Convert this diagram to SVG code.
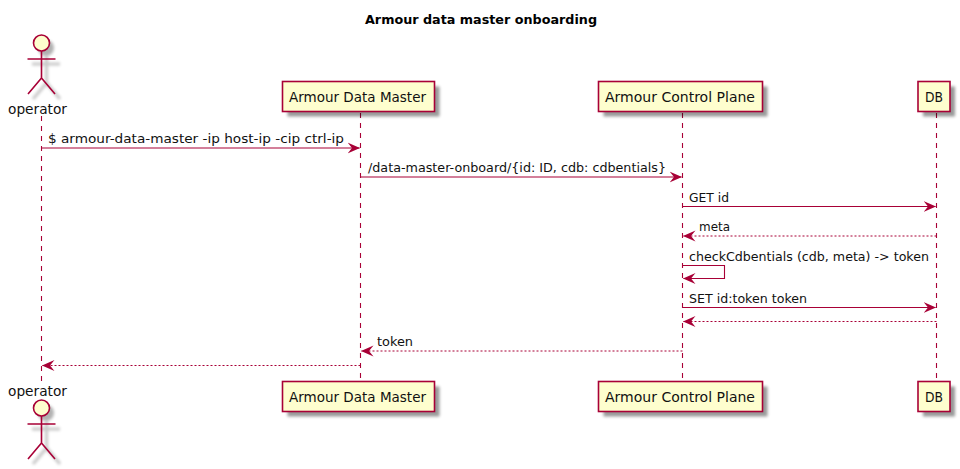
<svg xmlns="http://www.w3.org/2000/svg" width="960" height="469" viewBox="0 0 960 469">
<style>
text{font-family:"DejaVu Sans","Liberation Sans",sans-serif;font-size:13px;fill:#111}
.t{font-weight:bold;font-size:13px;fill:#000}
.a{font-size:14.500px}
.box{fill:#FEFECE;stroke:#A80036;stroke-width:1.600}
.sh{fill:#000;opacity:.4;filter:url(#b)}
.ls{stroke:#A80036;stroke-width:1.100;stroke-dasharray:5 5;fill:none}
.m{stroke:#A80036;stroke-width:1.100;fill:none}
.d{stroke-dasharray:2 2;stroke-width:1}
.ah{fill:#A80036;stroke:none}
.ac{stroke:#A80036;stroke-width:1.600;fill:none}
.sl{stroke:#000;stroke-width:3;fill:none;opacity:.22;filter:url(#b)}
</style>
<defs>
<filter id="b" x="-30%" y="-30%" width="160%" height="160%"><feGaussianBlur stdDeviation="1.500"/></filter>
<marker id="ar" viewBox="0 0 13 12" refX="12" refY="6" markerWidth="13" markerHeight="12" markerUnits="userSpaceOnUse" orient="auto-start-reverse"><path class="ah" d="M0 0.500 L12.500 6 L0 11.500 L4.500 6 Z"/></marker>
<g id="actor">
<circle cx="46" cy="48" r="8" fill="#000" opacity=".3" filter="url(#b)"/><path class="sl" d="M46.500 56V83M32 64H60M46.500 83L33 99M46.500 83L60 99"/>
<circle cx="41.500" cy="43" r="8" fill="#FEFECE" stroke="#A80036" stroke-width="1.600"/>
<path class="ac" d="M41.500 51V78M27.500 59H55.500M41.500 78L28 94M41.500 78L55 94"/>
</g>
</defs>
<text class="t" x="481" y="24" text-anchor="middle" textLength="232" lengthAdjust="spacingAndGlyphs">Armour data master onboarding</text>
<g id="connectors">
<path class="ls" d="M41.500 116V382M360.500 113V382M682.500 113V382M936.500 113V382"/>
<path class="m" d="M41.500 148H359.500" marker-end="url(#ar)"/>
<text x="48" y="143" textLength="296" lengthAdjust="spacingAndGlyphs">$ armour-data-master -ip host-ip -cip ctrl-ip</text>
<path class="m" d="M360.500 177H681.500" marker-end="url(#ar)"/>
<text x="368" y="172" textLength="298" lengthAdjust="spacingAndGlyphs">/data-master-onboard/{id: ID, cdb: cdbentials}</text>
<path class="m" d="M682.500 206.500H935.500" marker-end="url(#ar)"/>
<text x="689" y="202" textLength="40" lengthAdjust="spacingAndGlyphs">GET id</text>
<path class="m d" d="M936.500 236H683.500" marker-end="url(#ar)"/>
<text x="699" y="231" textLength="31" lengthAdjust="spacingAndGlyphs">meta</text>
<path class="m" d="M682.500 265.500H724.500V278.500H683.500" marker-end="url(#ar)"/>
<text x="689" y="261" textLength="240" lengthAdjust="spacingAndGlyphs">checkCdbentials (cdb, meta) -&gt; token</text>
<path class="m" d="M682.500 307.500H935.500" marker-end="url(#ar)"/>
<text x="689" y="303" textLength="118" lengthAdjust="spacingAndGlyphs">SET id:token token</text>
<path class="m d" d="M936.500 321.500H683.500" marker-end="url(#ar)"/>
<path class="m d" d="M682.500 351H361.500" marker-end="url(#ar)"/>
<text x="377" y="346" textLength="36" lengthAdjust="spacingAndGlyphs">token</text>
<path class="m d" d="M360.500 365.500H42.500" marker-end="url(#ar)"/>
</g>
<g id="operator-top"><use href="#actor"/><text class="a" x="8" y="114" textLength="59" lengthAdjust="spacingAndGlyphs">operator</text></g>
<g id="operator-bottom"><use href="#actor" y="365"/><text class="a" x="8" y="396" textLength="59" lengthAdjust="spacingAndGlyphs">operator</text></g>
<g id="data-master-top"><rect class="sh" x="287.500" y="86.500" width="152" height="30"/><rect class="box" x="282.500" y="81.500" width="152" height="30"/><text class="a" x="289" y="102" textLength="137" lengthAdjust="spacingAndGlyphs">Armour Data Master</text></g>
<g id="data-master-bottom"><rect class="sh" x="287.500" y="386.500" width="152" height="30"/><rect class="box" x="282.500" y="381.500" width="152" height="30"/><text class="a" x="289" y="402" textLength="137" lengthAdjust="spacingAndGlyphs">Armour Data Master</text></g>
<g id="control-plane-top"><rect class="sh" x="603.500" y="86.500" width="164" height="30"/><rect class="box" x="598.500" y="81.500" width="164" height="30"/><text class="a" x="605" y="102" textLength="150" lengthAdjust="spacingAndGlyphs">Armour Control Plane</text></g>
<g id="control-plane-bottom"><rect class="sh" x="603.500" y="386.500" width="164" height="30"/><rect class="box" x="598.500" y="381.500" width="164" height="30"/><text class="a" x="605" y="402" textLength="150" lengthAdjust="spacingAndGlyphs">Armour Control Plane</text></g>
<g id="db-top"><rect class="sh" x="923" y="86.500" width="32" height="30"/><rect class="box" x="918" y="81.500" width="32" height="30"/><text class="a" x="925" y="102" textLength="18" lengthAdjust="spacingAndGlyphs">DB</text></g>
<g id="db-bottom"><rect class="sh" x="923" y="386.500" width="32" height="30"/><rect class="box" x="918" y="381.500" width="32" height="30"/><text class="a" x="925" y="402" textLength="18" lengthAdjust="spacingAndGlyphs">DB</text></g>
</svg>
